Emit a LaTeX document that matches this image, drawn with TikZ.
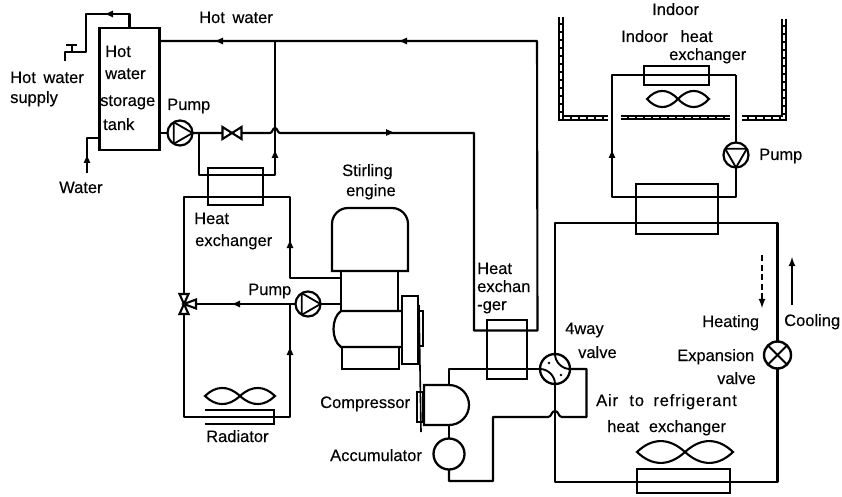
\documentclass[tikz,border=0pt]{standalone}
\usepackage{fontspec}
\setmainfont{Liberation Sans}
\newfontfamily\labfont{Liberation Sans}[FakeBold=0.25]
\usetikzlibrary{positioning}
\tikzset{x=1pt,y=-1pt,
  pipe/.style={line width=2.1pt,line join=round},
  part/.style={draw,line width=2.1pt,inner sep=0pt,outer sep=0pt,rectangle},
  lab/.style={font=\labfont\fontsize{16.5}{18}\selectfont,inner sep=0pt,anchor=base west},
  pump/.style={circle,draw,line width=2.2pt,fill=white,inner sep=0pt,outer sep=0pt,minimum size=25pt,
    path picture={\draw[line width=1.8pt,shift={(path picture bounding box.center)}]
      (#1:12.5pt) -- (#1+120:12.5pt) -- (#1+240:12.5pt) -- cycle;}},
  xvalve/.style={circle,draw,line width=2.4pt,fill=white,inner sep=0pt,outer sep=0pt,minimum size=27pt,
    path picture={\draw[line width=2pt] (path picture bounding box.south west) -- (path picture bounding box.north east)
      (path picture bounding box.north west) -- (path picture bounding box.south east);}},
}
\newcommand{\flowtip}[3]{\fill[shift={(#1,#2)},rotate=#3] (4.5,0) -- (-3,3.4) -- (-3,-3.4) -- cycle;}
\newcommand{\fanmark}[4]{\draw[line width=2.1pt,shift={(#1,#2)},xscale=#3,yscale=#4]
  (0,0) .. controls (-.35,-1.33) and (-.7,-1.2) .. (-1,0) .. controls (-.7,1.2) and (-.35,1.33) .. (0,0)
  .. controls (.35,-1.33) and (.7,-1.2) .. (1,0) .. controls (.7,1.2) and (.35,1.33) .. (0,0);}
\newcommand{\wallrun}[1]{\draw[line width=5.5pt,line join=miter] #1; \draw[white,line width=1.1pt,dash pattern=on 6pt off 2pt] #1;}

\begin{document}
\begin{tikzpicture}
  \useasboundingbox (0,0) rectangle (842,497);

  % hot water side
  \node[part,minimum width=60pt,minimum height=122pt] (tank) at (129.5,89) {};
  \node[part,minimum width=55pt,minimum height=37pt] (hxA) at (235.5,186.5) {};
  \node[part,minimum width=40pt,minimum height=59pt] (hxB) at (507,349.5) {};
  \coordinate (tapA) at (86,14);
  \coordinate (tapB) at (86,52);
  \coordinate (tapC) at (65,52);
  \coordinate (tapD) at (65,61);
  \coordinate (waterA) at (87,173);
  \coordinate (waterB) at (87,138);
  \coordinate (hotA) at (537,41);
  \coordinate (hotB) at (537.5,330.5);
  \coordinate (hotC) at (474,330.5);
  \coordinate (hotD) at (474,133);
  \coordinate (hopA) at (270,133);
  \coordinate (hopB) at (280,133);
  \coordinate (teeA) at (275,41);
  \coordinate (teeB) at (275,175);
  \coordinate (teeC) at (199,175);
  \coordinate (teeD) at (199,133);
  \coordinate (bowA) at (232,133);
  \coordinate (pumpAc) at (180,133);

  \draw[pipe] (tank.north) |- (tapA) -- (tapB) -- (tapC) -- (tapD);
  \draw[line width=2.1pt] (66,45) -- (77,45) (72,45) -- (72,52);
  \draw[pipe] (waterA) -- (waterB) -- (waterB -| tank.west);
  \draw[pipe] (tank.east |- hotA) -- (hotA) -- (hotB) -- (hotC) -- (hotD) -- (hopB)
    .. controls (277.5,133) and (277.5,128) .. (275,128) .. controls (272.5,128) and (272.5,133) .. (hopA) -- (pumpAc);
  \draw[pipe] (tank.east |- pumpAc) -- (pumpAc);
  \draw[pipe] (teeA) -- (teeB) -- (teeC) -- (teeD);
  \draw[line width=2.1pt,fill=white,shift={(bowA)}] (-9.5,-6) -- (9.5,6) -- (9.5,-6) -- (-9.5,6) -- cycle;
  \node[pump=0] (pumpA) at (pumpAc) {};

  % engine loop
  \node[part,minimum width=57pt,minimum height=40pt] (engine) at (369.5,291) {};
  \coordinate (loopA) at (184,197);
  \coordinate (loopB) at (290,197);
  \coordinate (loopC) at (290,278);
  \coordinate (loopD) at (184,304);
  \coordinate (loopE) at (184,417);
  \coordinate (loopF) at (290,417);
  \coordinate (loopG) at (290,304);
  \coordinate (pumpBc) at (308,304);

  \draw[pipe] (engine.west |- loopC) -- (loopC) -- (loopB) -- (loopA) -- (loopE) -- (loopF) -- (loopG);
  \draw[pipe] (loopD) -- (pumpBc) -- (engine.west |- pumpBc);
  \draw[line width=2.1pt,fill=white,shift={(loopD)}] (0,0) -- (-4.5,-10) -- (4.5,-10) -- cycle
    (0,0) -- (-4.5,10) -- (4.5,10) -- cycle (0,0) -- (12,-4.5) -- (12,4.5) -- cycle;
  \node[pump=0] (pumpB) at (pumpBc) {};
  \draw[line width=2.1pt] (205,410) -- (274,410) -- (274,424) -- (205,424);
  \fanmark{240}{396}{35}{8.5}

  % stirling engine
  \draw[line width=2.2pt] (332,271) [rounded corners=16pt] -- (332,208) -- (408,208) [rounded corners=0pt] -- (408,271) -- cycle;
  \draw[line width=2.2pt] (402,311) -- (341,311) .. controls (331,318) and (331,340) .. (341,347) -- (402,347);
  \draw[line width=2.2pt] (342,347) rectangle (399,369);
  \node[part,minimum width=16pt,minimum height=68pt] (flywheel) at (410,330) {};
  \node[part,line width=1.4pt,minimum width=5pt,minimum height=35pt] (pulleyA) at (420.5,328.5) {};
  \node[part,line width=1.4pt,minimum width=6pt,minimum height=30pt] (pulleyB) at (420,407) {};
  \draw[line width=1.6pt] (pulleyA.north) ++(-1.5,-6) -- (421,432);

  % refrigerant side
  \node[circle,draw,line width=2.3pt,fill=white,inner sep=0pt,outer sep=0pt,minimum size=30pt] (wayv) at (555,369) {};
  \node[circle,draw,line width=2.3pt,inner sep=0pt,outer sep=0pt,minimum size=31pt] (accu) at (449,454) {};
  \node[xvalve] (expv) at (777.5,355) {};
  \node[part,minimum width=93pt,minimum height=24pt] (hxC) at (683.5,481) {};
  \coordinate (compA) at (449,385);
  \coordinate (compB) at (449,425);
  \coordinate (refA) at (449,369);
  \coordinate (refB) at (586.5,369);
  \coordinate (refC) at (586.5,417);
  \coordinate (refD) at (562,417);
  \coordinate (refE) at (548,417);
  \coordinate (refF) at (493,417);
  \coordinate (refG) at (493,481);
  \coordinate (refH) at (449,481);
  \coordinate (refI) at (555,223);
  \coordinate (refJ) at (777.5,223);
  \coordinate (refK) at (777.5,482);
  \coordinate (refL) at (555,482);

  \draw[line width=2.2pt] (424,385) -- (compA) arc[start angle=90,end angle=-90,radius=20pt] -- (424,425) -- cycle;
  \draw[pipe] (compA) -- (refA) -- (wayv.west);
  \draw[pipe] (wayv.east) -- (refB) -- (refC) -- (refD)
    .. controls (558,417) and (559,411) .. (555,411) .. controls (551,411) and (552,417) .. (refE) -- (refF) -- (refG) -- (refH) -- (accu.south);
  \draw[pipe] (accu.north) -- (compB);
  \draw[pipe] (wayv.north) -- (refI) -- (refJ) -- (expv.north);
  \draw[pipe] (expv.south) -- (refK) -- (refL) -- (wayv.south);
  \draw[line width=1.9pt] (wayv.north) .. controls (555,362) and (562,369) .. (wayv.east);
  \draw[line width=1.9pt] (wayv.west) .. controls (548,369) and (555,376) .. (wayv.south);
  \fill (549,363) circle[radius=1.3pt] (561,375) circle[radius=1.3pt];
  \fanmark{685}{452}{48}{11.5}

  % indoor side
  \node[part,minimum width=65pt,minimum height=19pt] (hxD) at (676.5,75.5) {};
  \node[part,minimum width=82pt,minimum height=50pt] (hxE) at (677,209) {};
  \coordinate (inA) at (612,197);
  \coordinate (inB) at (612,75);
  \coordinate (inC) at (736,75);
  \coordinate (inD) at (736,197);

  \draw[pipe] (inC) -- (inD) -- (inA) -- (inB) -- (inC);
  \node[pump=-90] (pumpC) at (736,155) {};
  \fanmark{678}{99}{31}{8.5}
  \wallrun{(561,17) -- (561,118) -- (608,118)}
  \wallrun{(621,117.5) -- (730,117.5)}
  \wallrun{(784,19) -- (784,118) -- (742,118)}

  % flow marks
  \flowtip{110}{14}{180}
  \flowtip{87}{160}{90}
  \flowtip{220}{41}{180}
  \flowtip{404}{41}{180}
  \flowtip{389}{132.5}{0}
  \flowtip{275}{155}{90}
  \flowtip{290}{245}{90}
  \flowtip{290}{352}{90}
  \flowtip{237}{304}{180}
  \flowtip{612}{155}{90}
  \draw[line width=2.1pt,-latex,dash pattern=on 6pt off 3.5pt] (762,255) -- (762,308);
  \draw[line width=2.1pt,-latex] (792,305) -- (792,257);

  % labels
  \node[lab] (hotw) at (199,23) {Hot\hspace{3pt} water};
  \node[lab] (sup) at (10,83) {Hot\hspace{3pt} water};
  \node[lab] (supb) at (10,103) {supply};
  \node[lab] (ta) at (105,57) {Hot};
  \node[lab] (tb) at (105,79) {water};
  \node[lab] (tc) at (100,106) {storage};
  \node[lab] (td) at (103,130) {tank};
  \node[lab] (pa) at (167,110) {Pump};
  \node[lab] (wat) at (59,193) {Water};
  \node[lab] (xa) at (194,224) {Heat};
  \node[lab] (xb) at (195,246) {exchanger};
  \node[lab] (pb) at (248,295) {Pump};
  \node[lab] (rad) at (206,442) {Radiator};
  \node[lab] (comp) at (320,408) {Compressor};
  \node[lab] (acl) at (330,461) {Accumulator};
  \node[lab] (sa) at (342,176) {Stirling};
  \node[lab] (sb) at (346,196) {engine};
  \node[lab] (ha) at (477,274) {Heat};
  \node[lab] (hb) at (477,292) {exchan};
  \node[lab] (hc) at (477,310) {-ger};
  \node[lab] (wa) at (565,334) {4way};
  \node[lab] (wb) at (578,358) {valve};
  \node[lab] (heat) at (702,327) {Heating};
  \node[lab] (cool) at (784,326) {Cooling};
  \node[lab] (ea) at (677,361) {Expansion};
  \node[lab] (eb) at (717,384) {valve};
  \node[lab,font=\labfont\fontsize{16.5}{18}\selectfont\addfontfeature{LetterSpace=5}] (aa) at (596,406) {Air\hspace{6pt} to\hspace{4pt} refrigerant};
  \node[lab] (ab) at (607,432) {heat\hspace{5pt} exchanger};
  \node[lab] (ind) at (652,15) {Indoor};
  \node[lab] (ia) at (621,42) {Indoor\hspace{8pt} heat};
  \node[lab] (ib) at (669,60) {exchanger};
  \node[lab] (pc) at (759,160) {Pump};
\end{tikzpicture}
\end{document}
